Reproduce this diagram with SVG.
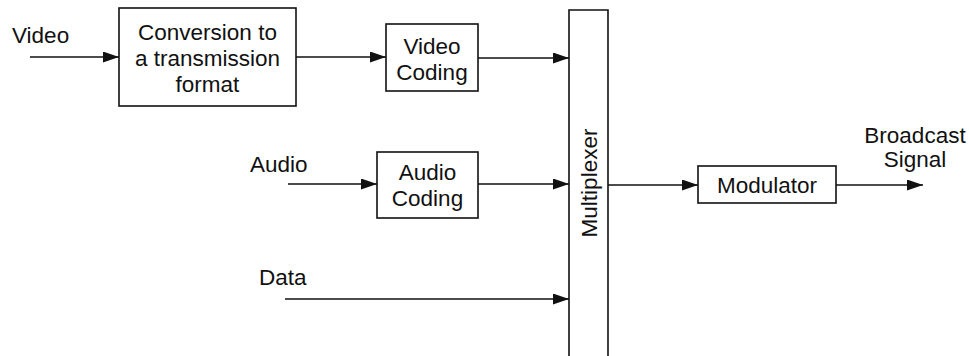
<svg xmlns="http://www.w3.org/2000/svg" width="969" height="356" viewBox="0 0 969 356">
  <style>
    .box { fill: #fff; stroke: #111; stroke-width: 1.6; }
    .wire { fill: none; stroke: #111; stroke-width: 1.6; }
    text { font-family: "Liberation Sans", Arial, Helvetica, sans-serif; font-size: 22.5px; fill: #111; }
    .c { text-anchor: middle; }
  </style>
  <defs>
    <marker id="arrow" viewBox="0 0 16 11" refX="16" refY="5.5" markerWidth="16" markerHeight="11" markerUnits="userSpaceOnUse" orient="auto">
      <path d="M0,0 L16,5.5 L0,11 Z" fill="#111"/>
    </marker>
  </defs>
  <rect width="969" height="356" fill="#fff"/>

  <!-- signal flow -->
  <g id="connectors">
    <line class="wire" x1="30" y1="57" x2="119" y2="57" marker-end="url(#arrow)"/>
    <line class="wire" x1="296" y1="57" x2="386" y2="57" marker-end="url(#arrow)"/>
    <line class="wire" x1="478" y1="58" x2="569" y2="58" marker-end="url(#arrow)"/>
    <line class="wire" x1="288" y1="184" x2="377" y2="184" marker-end="url(#arrow)"/>
    <line class="wire" x1="478" y1="184" x2="569" y2="184" marker-end="url(#arrow)"/>
    <line class="wire" x1="285" y1="299" x2="569" y2="299" marker-end="url(#arrow)"/>
    <line class="wire" x1="608" y1="185" x2="698" y2="185" marker-end="url(#arrow)"/>
    <line class="wire" x1="836" y1="185" x2="923" y2="185" marker-end="url(#arrow)"/>
  </g>

  <!-- input / output labels -->
  <g id="labels">
    <text x="12" y="43">Video</text>
    <text x="250" y="172">Audio</text>
    <text x="259" y="285">Data</text>
    <text class="c" x="915" y="143">Broadcast</text>
    <text class="c" x="915" y="167">Signal</text>
  </g>

  <g id="conversion">
    <rect class="box" x="119" y="8" width="177" height="98"/>
    <text class="c" x="207.5" y="40">Conversion to</text>
    <text class="c" x="207.5" y="66">a transmission</text>
    <text class="c" x="207.5" y="92">format</text>
  </g>

  <g id="video-coding">
    <rect class="box" x="386" y="24" width="92" height="67"/>
    <text class="c" x="432" y="54">Video</text>
    <text class="c" x="432" y="80">Coding</text>
  </g>

  <g id="audio-coding">
    <rect class="box" x="377" y="152" width="101" height="66"/>
    <text class="c" x="427.5" y="180">Audio</text>
    <text class="c" x="427.5" y="206">Coding</text>
  </g>

  <g id="multiplexer">
    <path class="box" d="M569,357 V10 H608 V357"/>
    <text class="c" transform="translate(597,183) rotate(-90)">Multiplexer</text>
  </g>

  <g id="modulator">
    <rect class="box" x="698" y="166" width="138" height="37"/>
    <text class="c" x="767" y="193">Modulator</text>
  </g>
</svg>
